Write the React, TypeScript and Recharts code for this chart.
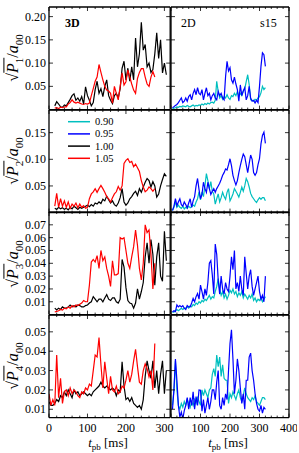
import React from "react";
import { LineChart, Line, XAxis, YAxis } from "recharts";

const FONT = '"Liberation Serif", "DejaVu Serif", serif';
const CYAN = "#00bfbf";
const BLUE = "#0000ff";
const BLACK = "#000000";
const RED = "#ff0000";

// time axes [ms]
const T3 = [
  0, 5, 10, 15, 20, 25, 30, 35, 40, 45, 50, 55, 60, 65, 70, 75, 80, 85, 90, 95,
  100, 105, 110, 115, 120, 125, 130, 135, 140, 145, 150, 155, 160, 165, 170, 175, 180, 185, 190, 195,
  200, 205, 210, 215, 220, 225, 230, 235, 240, 245, 250, 255, 260, 265, 270, 275, 280, 285, 290, 295,
  300, 305,
];
const T2 = [
  5, 10, 15, 20, 25, 30, 35, 40, 45, 50, 55, 60, 65, 70, 75, 80, 85, 90, 95, 100,
  105, 110, 115, 120, 125, 130, 135, 140, 145, 150, 155, 160, 165, 170, 175, 180, 185, 190, 195, 200,
  205, 210, 215, 220, 225, 230, 235, 240, 245, 250, 255, 260, 265, 270, 275, 280, 285, 290, 295, 300,
  305, 310, 315, 320,
];

// 3D, sqrt(P1)/a00
const P1_BLACK = [
  null, null, null, 0.008, 0.017, 0.012, 0.006, 0.005, 0.01, 0.008,
  0.015, 0.022, 0.03, 0.034, 0.02, 0.025, 0.018, 0.028, 0.012, 0.049,
  0.03, 0.02, 0.008, 0.015, 0.043, 0.061, 0.035, 0.045, 0.028, 0.05,
  0.064, 0.03, 0.02, 0.013, 0.03, 0.035, 0.025, 0.045, 0.089, 0.104,
  0.064, 0.089, 0.061, 0.092, 0.064, 0.154, 0.092, 0.12, 0.188, 0.128,
  0.14, 0.092, 0.1, 0.08, 0.086, 0.12, 0.165, 0.11, 0.15, 0.079,
  0.1, 0.075,
];
const P1_RED = [
  null, null, null, 0.003, 0.004, 0.002, 0.005, 0.004, 0.006, 0.006,
  0.012, 0.015, 0.021, 0.016, 0.014, 0.016, 0.014, 0.012, 0.011, 0.013,
  0.012, 0.014, 0.03, 0.045, 0.061, 0.07, 0.097, 0.08, 0.064, 0.05,
  0.042, 0.04, 0.035, 0.014, 0.05, 0.035, 0.021, 0.05, 0.079, 0.053,
  0.06, 0.085, 0.07, 0.055, 0.042, 0.035, 0.067, 0.08, 0.088, 0.088,
  0.07, 0.055, 0.05, 0.07, 0.082, 0.07, null, null, null, null,
  null, null,
];
// 3D, sqrt(P2)/a00
const P2_BLACK = [
  null, null, null, 0.008, 0.006, 0.01, 0.007, 0.009, 0.006, 0.008,
  0.005, 0.01, 0.007, 0.012, 0.009, 0.006, 0.01, 0.008, 0.01, 0.012,
  0.014, 0.011, 0.015, 0.012, 0.018, 0.016, 0.02, 0.017, 0.025, 0.022,
  0.031, 0.024, 0.018, 0.022, 0.015, 0.012, 0.018, 0.028, 0.045, 0.02,
  0.014, 0.018, 0.026, 0.03, 0.036, 0.04, 0.032, 0.045, 0.038, 0.048,
  0.057, 0.064, 0.06, 0.048, 0.058, 0.05, 0.029, 0.035, 0.05, 0.062,
  0.073, 0.068,
];
const P2_RED = [
  null, null, null, 0.012, 0.036, 0.01, 0.026, 0.012, 0.022, 0.01,
  0.02, 0.008, 0.016, 0.012, 0.018, 0.009, 0.016, 0.01, 0.013, 0.008,
  0.01, 0.026, 0.035, 0.039, 0.045, 0.038, 0.045, 0.051, 0.045, 0.038,
  0.03, 0.026, 0.02, 0.028, 0.035, 0.039, 0.049, 0.042, 0.05, 0.092,
  0.098, 0.101, 0.094, 0.096, 0.086, 0.091, 0.084, 0.077, 0.06, 0.048,
  0.039, 0.042, 0.048, 0.045, 0.04, 0.045, null, null, null, null,
  null, null,
];
// 3D, sqrt(P3)/a00
const P3_BLACK = [
  null, null, null, 0.005, 0.0036, 0.005, 0.004, 0.006, 0.005, 0.005,
  0.006, 0.0075, 0.006, 0.007, 0.006, 0.0075, 0.007, 0.006, 0.006, 0.007,
  0.0075, 0.009, 0.01, 0.014, 0.012, 0.01, 0.012, 0.012, 0.01, 0.013,
  0.0156, 0.012, 0.011, 0.013, 0.013, 0.01, 0.009, 0.012, 0.043, 0.037,
  0.021, 0.011, 0.009, 0.0085, 0.005, 0.009, 0.02, 0.012, 0.018, 0.025,
  0.045, 0.056, 0.04, 0.0585, 0.047, 0.023, 0.045, 0.056, 0.03, 0.026,
  0.065, 0.042,
];
const P3_RED = [
  null, null, null, 0.002, 0.0025, 0.003, 0.004, 0.0035, 0.005, 0.0045,
  0.006, 0.005, 0.007, 0.006, 0.0075, 0.007, 0.008, 0.009, 0.011, 0.01,
  0.01, 0.023, 0.041, 0.043, 0.041, 0.046, 0.036, 0.05, 0.042, 0.045,
  0.036, 0.03, 0.022, 0.042, 0.031, 0.031, 0.032, 0.06, 0.059, 0.06,
  0.05, 0.04, 0.036, 0.045, 0.053, 0.066, 0.054, 0.036, 0.027, 0.04,
  0.07, 0.064, 0.066, 0.047, 0.02, 0.04, null, null, null, null,
  null, null,
];
// 3D, sqrt(P4)/a00
const P4_BLACK = [
  0.0138, 0.012, 0.012, 0.013, 0.015, 0.014, 0.017, 0.016, 0.019, 0.017,
  0.02, 0.018, 0.016, 0.02, 0.018, 0.019, 0.017, 0.018, 0.019, 0.018,
  0.017, 0.018, 0.017, 0.019, 0.02, 0.021, 0.022, 0.024, 0.022, 0.021,
  0.022, 0.021, 0.02, 0.021, 0.02, 0.017, 0.02, 0.019, 0.0345, 0.022,
  0.015, 0.016, 0.014, 0.016, 0.013, 0.012, 0.011, 0.012, 0.01, 0.015,
  0.027, 0.035, 0.03, 0.026, 0.035, 0.021, 0.03, 0.018, 0.028, 0.035,
  0.018, 0.03,
];
const P4_RED = [
  0.018, 0.012, 0.015, 0.012, 0.038, 0.016, 0.026, 0.013, 0.019, 0.02,
  0.017, 0.021, 0.018, 0.02, 0.019, 0.017, 0.016, 0.019, 0.018, 0.021,
  0.02, 0.023, 0.022, 0.03, 0.038, 0.037, 0.047, 0.033, 0.021, 0.0345,
  0.026, 0.018, 0.027, 0.02, 0.019, 0.022, 0.018, 0.019, 0.022, 0.021,
  0.025, 0.03, 0.024, 0.028, 0.035, 0.041, 0.032, 0.024, 0.023, 0.03,
  0.0335, 0.031, 0.0267, 0.03, 0.02, 0.044, null, null, null, null,
  null, null,
];

// 2D s15
const Q1_BLUE = [
  0.004, 0.006, 0.009, 0.011, 0.015, 0.02, 0.025, 0.015, 0.018, 0.025,
  0.018, 0.028, 0.032, 0.021, 0.035, 0.043, 0.032, 0.047, 0.035, 0.032,
  0.043, 0.021, 0.035, 0.047, 0.03, 0.035, 0.021, 0.03, 0.035, 0.025,
  0.021, 0.039, 0.03, 0.035, 0.025, 0.021, 0.071, 0.104, 0.083, 0.09,
  0.064, 0.057, 0.07, 0.055, 0.043, 0.018, 0.053, 0.03, 0.04, 0.047,
  0.021, 0.03, 0.05, 0.025, 0.018, 0.02, 0.014, 0.02, 0.015, 0.05,
  0.093, 0.122, 0.118, 0.093,
];
const Q1_CYAN = [
  0.002, 0.003, 0.004, 0.006, 0.005, 0.007, 0.006, 0.008, 0.007, 0.006,
  0.009, 0.007, 0.006, 0.008, 0.01, 0.007, 0.009, 0.008, 0.01, 0.009,
  0.012, 0.01, 0.013, 0.011, 0.014, 0.012, 0.015, 0.016, 0.014, 0.02,
  0.061, 0.039, 0.025, 0.03, 0.022, 0.028, 0.025, 0.032, 0.025, 0.022,
  0.03, 0.028, 0.035, 0.03, 0.039, 0.03, 0.035, 0.03, 0.04, 0.045,
  0.06, 0.075, 0.054, 0.021, 0.02, 0.018, 0.022, 0.02, 0.025, 0.028,
  0.036, 0.05, 0.043, 0.047,
];
const Q2_BLUE = [
  0.004, 0.012, 0.026, 0.013, 0.02, 0.026, 0.015, 0.012, 0.02, 0.015,
  0.009, 0.018, 0.026, 0.01, 0.022, 0.03, 0.05, 0.064, 0.043, 0.026,
  0.034, 0.057, 0.045, 0.038, 0.057, 0.045, 0.034, 0.04, 0.045, 0.038,
  0.045, 0.05, 0.055, 0.062, 0.07, 0.075, 0.082, 0.08, 0.09, 0.101,
  0.088, 0.07, 0.06, 0.052, 0.06, 0.075, 0.088, 0.1, 0.11, 0.105,
  0.09, 0.075, 0.092, 0.108, 0.1, 0.075, 0.07, 0.075, 0.09, 0.101,
  0.129, 0.145, 0.151, 0.13,
];
const Q2_CYAN = [
  0.004, 0.01, 0.02, 0.01, 0.014, 0.01, 0.008, 0.012, 0.007, 0.01,
  0.008, 0.012, 0.009, 0.011, 0.014, 0.012, 0.02, 0.026, 0.039, 0.024,
  0.039, 0.03, 0.05, 0.073, 0.06, 0.045, 0.058, 0.04, 0.035, 0.016,
  0.026, 0.035, 0.02, 0.028, 0.038, 0.03, 0.025, 0.038, 0.045, 0.022,
  0.028, 0.035, 0.045, 0.04, 0.035, 0.029, 0.038, 0.048, 0.04, 0.05,
  0.064, 0.058, 0.048, 0.036, 0.03, 0.026, 0.022, 0.019, 0.024, 0.028,
  0.025, 0.028, 0.028, 0.022,
];
const Q3_BLUE = [
  0.002, 0.003, 0.0024, 0.0075, 0.006, 0.007, 0.006, 0.007, 0.005, 0.004,
  0.007, 0.006, 0.006, 0.009, 0.0126, 0.01, 0.014, 0.0164, 0.012, 0.023,
  0.018, 0.012, 0.02, 0.015, 0.025, 0.04, 0.042, 0.031, 0.016, 0.055,
  0.047, 0.027, 0.016, 0.03, 0.02, 0.016, 0.025, 0.02, 0.018, 0.03,
  0.045, 0.035, 0.05, 0.02, 0.025, 0.018, 0.03, 0.02, 0.015, 0.045,
  0.032, 0.02, 0.03, 0.035, 0.022, 0.015, 0.02, 0.025, 0.03, 0.018,
  0.012, 0.015, 0.01, 0.03,
];
const Q3_CYAN = [
  0.002, 0.002, 0.003, 0.004, 0.003, 0.004, 0.005, 0.004, 0.005, 0.005,
  0.006, 0.005, 0.007, 0.006, 0.008, 0.007, 0.009, 0.008, 0.01, 0.009,
  0.011, 0.01, 0.012, 0.011, 0.013, 0.015, 0.012, 0.014, 0.013, 0.018,
  0.022, 0.028, 0.02, 0.015, 0.018, 0.013, 0.016, 0.012, 0.015, 0.019,
  0.017, 0.02, 0.016, 0.018, 0.014, 0.017, 0.015, 0.018, 0.013, 0.016,
  0.014, 0.012, 0.015, 0.013, 0.016, 0.011, 0.013, 0.01, 0.012, 0.011,
  0.013, 0.01, 0.012, 0.014,
];
const Q4_BLUE = [
  0.01, 0.02, 0.036, 0.025, 0.012, 0.006, 0.0085, 0.005, 0.0093, 0.012,
  0.016, 0.01, 0.016, 0.012, 0.019, 0.01, 0.0165, 0.012, 0.02, 0.0198,
  0.009, 0.015, 0.008, 0.012, 0.016, 0.01, 0.014, 0.02, 0.02, 0.015,
  0.024, 0.03, 0.012, 0.01, 0.016, 0.012, 0.018, 0.015, 0.03, 0.044,
  0.051, 0.036, 0.018, 0.025, 0.036, 0.03, 0.021, 0.013, 0.018, 0.01,
  0.025, 0.025, 0.037, 0.039, 0.03, 0.025, 0.018, 0.013, 0.01, 0.009,
  0.012, 0.008, 0.011, 0.01,
];
const Q4_CYAN = [
  0.012, 0.02, 0.035, 0.02, 0.012, 0.01, 0.013, 0.011, 0.014, 0.012,
  0.015, 0.013, 0.011, 0.014, 0.012, 0.015, 0.013, 0.016, 0.014, 0.012,
  0.02, 0.017, 0.02, 0.018, 0.016, 0.02, 0.021, 0.028, 0.031, 0.027,
  0.038, 0.032, 0.037, 0.027, 0.033, 0.026, 0.025, 0.025, 0.013, 0.018,
  0.016, 0.019, 0.017, 0.015, 0.018, 0.02, 0.016, 0.014, 0.017, 0.021,
  0.018, 0.016, 0.015, 0.014, 0.016, 0.015, 0.017, 0.014, 0.013, 0.012,
  0.014, 0.016, 0.016, 0.015,
];

const Y_DOMAINS = [[0, 0.2207], [0, 0.1925], [0, 0.08], [0.0057, 0.0587]];
const Y_TICKS = [
  [0.05, 0.1, 0.15, 0.2],
  [0.05, 0.1, 0.15],
  [0.01, 0.02, 0.03, 0.04, 0.05, 0.06, 0.07],
  [0.01, 0.02, 0.03, 0.04, 0.05],
];
const X_DOMAINS = [[0, 315], [0, 400]];
const X_TICKS = [
  [0, 20, 40, 60, 80, 100, 120, 140, 160, 180, 200, 220, 240, 260, 280, 300],
  [0, 20, 40, 60, 80, 100, 120, 140, 160, 180, 200, 220, 240, 260, 280, 300, 320, 340, 360, 380, 400],
];
const X_LABELS = [[0, 100, 200, 300], [100, 200, 300, 400]];
const LEGEND = [
  { label: "0.90", color: CYAN },
  { label: "0.95", color: BLUE },
  { label: "1.00", color: BLACK },
  { label: "1.05", color: RED },
];

const SERIES_3D = [
  [P1_BLACK, P1_RED],
  [P2_BLACK, P2_RED],
  [P3_BLACK, P3_RED],
  [P4_BLACK, P4_RED],
];
const SERIES_2D = [
  [Q1_CYAN, Q1_BLUE],
  [Q2_CYAN, Q2_BLUE],
  [Q3_CYAN, Q3_BLUE],
  [Q4_CYAN, Q4_BLUE],
];

// layout (px)
const COL_X = [49.3, 170.5];
const COL_W = [121.2, 118];
const ROW_Y = [7, 109.6, 212.2, 314.8];
const ROW_H = 102.6;
const PAD = { l: 44, r: 8, t: 8, b: 22 };
const AX = { stroke: "#000", strokeWidth: 1.3 };

const XTick = (p: any) => {
  const { x, y, payload, dir, labels } = p;
  const v = payload.value;
  const len = v % 100 === 0 ? 4 : 2;
  return (
    <g>
      <line x1={x} x2={x} y1={y} y2={y + dir * len} stroke="#000" strokeWidth={0.8} />
      {labels && labels.includes(v) && (
        <text x={x} y={y + 14} textAnchor="middle" fontFamily={FONT} fontSize={12} fill="#000">
          {v}
        </text>
      )}
    </g>
  );
};

const YTick = (p: any) => {
  const { x, y, payload, dir, showLabel } = p;
  return (
    <g>
      <line x1={x} x2={x + dir * 4} y1={y} y2={y} stroke="#000" strokeWidth={0.8} />
      {showLabel && (
        <text x={x - 3} y={y} dy={4} textAnchor="end" fontFamily={FONT} fontSize={12} fill="#000">
          {payload.value.toFixed(2)}
        </text>
      )}
    </g>
  );
};

const Panel = ({ row, col }: { row: number; col: number }) => {
  const t = col === 0 ? T3 : T2;
  const [a, b] = col === 0 ? SERIES_3D[row] : SERIES_2D[row];
  const colors = col === 0 ? [BLACK, RED] : [CYAN, BLUE];
  const data = t.map((tt, i) => ({ t: tt, a: a[i], b: b[i] }));
  const w = COL_W[col] + PAD.l + PAD.r;
  const h = ROW_H + PAD.t + PAD.b;
  const bottomLabels = row === 3 ? X_LABELS[col] : null;

  // axes are 1px thick (recharts skips 0-sized axes), so margins are 1px less
  return (
    <div style={{ position: "absolute", left: COL_X[col] - PAD.l, top: ROW_Y[row] - PAD.t }}>
      <LineChart
        width={w}
        height={h}
        data={data}
        margin={{ top: PAD.t - 1, right: PAD.r - 1, bottom: PAD.b - 1, left: PAD.l - 1 }}
      >
        <XAxis
          xAxisId="b"
          dataKey="t"
          type="number"
          domain={X_DOMAINS[col]}
          allowDataOverflow
          ticks={X_TICKS[col]}
          interval={0}
          height={1}
          tickSize={0}
          tickMargin={0}
          tickLine={false}
          axisLine={AX}
          tick={(p: any) => <XTick {...p} dir={-1} labels={bottomLabels} />}
        />
        <XAxis
          xAxisId="t"
          orientation="top"
          dataKey="t"
          type="number"
          domain={X_DOMAINS[col]}
          allowDataOverflow
          ticks={X_TICKS[col]}
          interval={0}
          height={1}
          tickSize={0}
          tickMargin={0}
          tickLine={false}
          axisLine={AX}
          tick={(p: any) => <XTick {...p} dir={1} labels={null} />}
        />
        <YAxis
          yAxisId="l"
          type="number"
          domain={Y_DOMAINS[row]}
          allowDataOverflow
          ticks={Y_TICKS[row]}
          interval={0}
          width={1}
          tickSize={0}
          tickMargin={0}
          tickLine={false}
          axisLine={AX}
          tick={(p: any) => <YTick {...p} dir={1} showLabel={col === 0} />}
        />
        <YAxis
          yAxisId="r"
          orientation="right"
          type="number"
          domain={Y_DOMAINS[row]}
          allowDataOverflow
          ticks={Y_TICKS[row]}
          interval={0}
          width={1}
          tickSize={0}
          tickMargin={0}
          tickLine={false}
          axisLine={AX}
          tick={(p: any) => <YTick {...p} dir={-1} showLabel={false} />}
        />
        <Line xAxisId="b" yAxisId="l" dataKey="a" type="linear" stroke={colors[0]} strokeWidth={1.2} dot={false} isAnimationActive={false} />
        <Line xAxisId="b" yAxisId="l" dataKey="b" type="linear" stroke={colors[1]} strokeWidth={1.2} dot={false} isAnimationActive={false} />
      </LineChart>
    </div>
  );
};

const YLabel = ({ n, cy }: { n: number; cy: number }) => (
  <div
    style={{
      position: "absolute",
      left: 15,
      top: cy,
      transform: "translate(-50%, -50%) rotate(-90deg)",
      whiteSpace: "nowrap",
      fontFamily: FONT,
      fontSize: 16,
      lineHeight: 1,
      color: "#000",
    }}
  >
    √<span style={{ borderTop: "1px solid #000" }}>
      <i>P</i>
      <sub style={{ fontSize: 11 }}>{n}</sub>
    </span>
    /<i>a</i>
    <sub style={{ fontSize: 11 }}>00</sub>
  </div>
);

export default function App() {
  return (
    <div style={{ position: "absolute", left: 0, top: 0, width: 299, height: 453, background: "#fff" }}>
      {[0, 1, 2, 3].map((r) => [0, 1].map((c) => <Panel key={`${r}-${c}`} row={r} col={c} />))}
      {[1, 2, 3, 4].map((n, i) => (
        <YLabel key={n} n={n} cy={ROW_Y[i] + ROW_H / 2} />
      ))}
      <svg width={299} height={453} style={{ position: "absolute", left: 0, top: 0, pointerEvents: "none" }}>
        <text x={65} y={27} fontFamily={FONT} fontSize={12} fontWeight="bold">3D</text>
        <text x={181} y={27} fontFamily={FONT} fontSize={12}>2D</text>
        <text x={260} y={27} fontFamily={FONT} fontSize={12}>s15</text>
        {LEGEND.map((l, i) => (
          <g key={l.label}>
            <line x1={68} x2={90} y1={121.7 + i * 12.2} y2={121.7 + i * 12.2} stroke={l.color} strokeWidth={1.5} />
            <text x={95} y={121.7 + i * 12.2 + 3.5} fontFamily={FONT} fontSize={10.5}>{l.label}</text>
          </g>
        ))}
        {[108, 228].map((cx) => (
          <text key={cx} x={cx} y={447} textAnchor="middle" fontFamily={FONT} fontSize={13}>
            <tspan fontStyle="italic">t</tspan>
            <tspan fontSize={9} dy={3}>pb</tspan>
            <tspan dy={-3}> [ms]</tspan>
          </text>
        ))}
      </svg>
    </div>
  );
}
